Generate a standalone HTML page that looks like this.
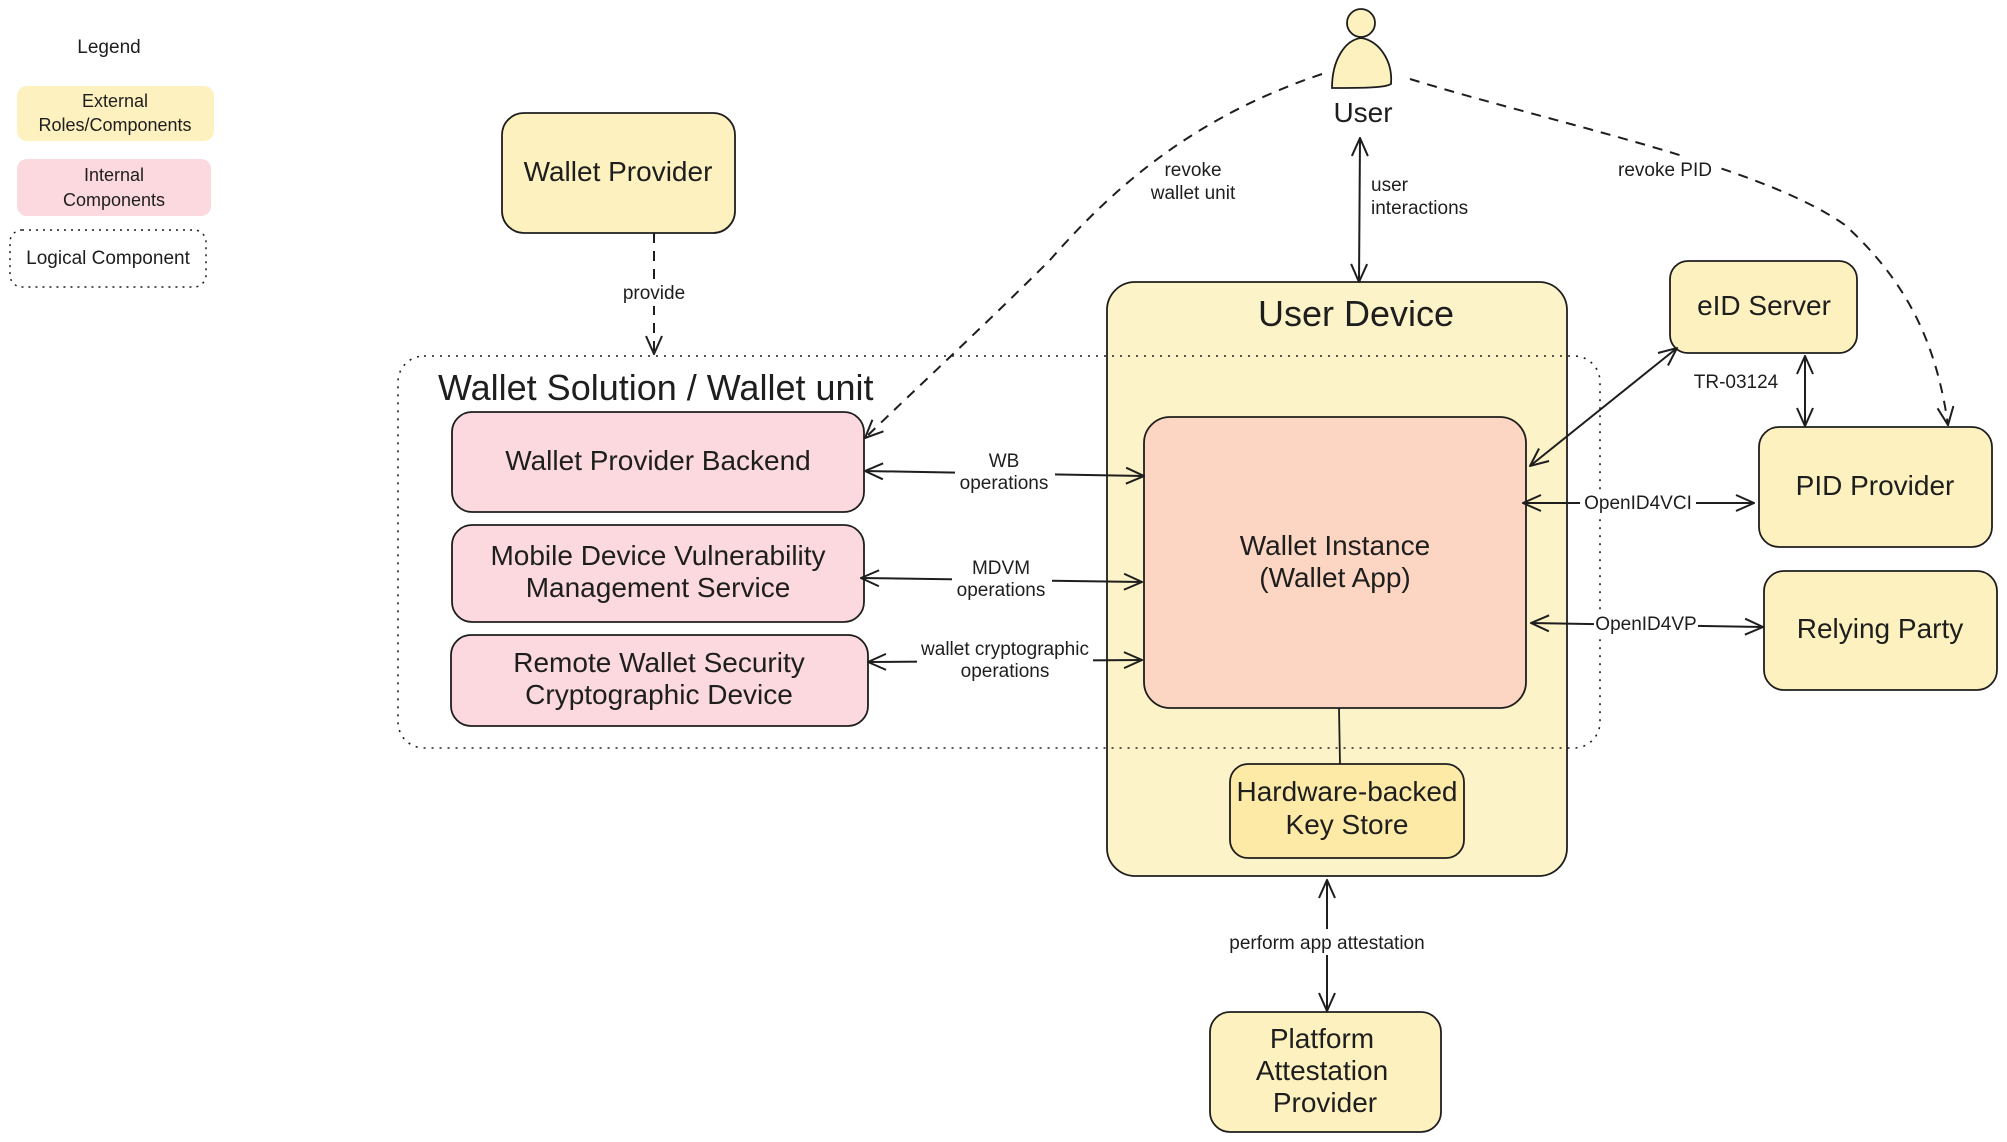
<!DOCTYPE html>
<html><head><meta charset="utf-8"><style>
html,body{margin:0;padding:0;background:#fff;}
svg{display:block;}
text{font-family:"Liberation Sans",sans-serif;fill:#1e1e1e;}
</style></head><body>
<svg width="2007" height="1142" viewBox="0 0 2007 1142" xmlns="http://www.w3.org/2000/svg">
<defs>
<marker id="ah" viewBox="0 0 20 20" refX="19" refY="10" markerWidth="20" markerHeight="20" markerUnits="userSpaceOnUse" orient="auto-start-reverse">
<path d="M1,2 L19,10 L1,18" fill="none" stroke="#1e1e1e" stroke-width="2"/>
</marker>
</defs>

<text x="109" y="53" font-size="19" text-anchor="middle">Legend</text>
<rect x="17" y="86" width="197" height="55" rx="10" fill="#fdf1bf"/>
<text x="115" y="107" font-size="18" text-anchor="middle">External</text>
<text x="115" y="131" font-size="18" text-anchor="middle">Roles/Components</text>
<rect x="17" y="159" width="194" height="57" rx="10" fill="#fbd9de"/>
<text x="114" y="181" font-size="18" text-anchor="middle">Internal</text>
<text x="114" y="206" font-size="18" text-anchor="middle">Components</text>
<rect x="10" y="230" width="196" height="57" rx="12" fill="none" stroke="#1e1e1e" stroke-width="1.5" stroke-dasharray="2,5"/>
<text x="108" y="264" font-size="19" text-anchor="middle">Logical Component</text>

<rect x="1107" y="282" width="460" height="594" rx="28" fill="#fdf3c8" stroke="#1e1e1e" stroke-width="1.8"/>
<text x="1356" y="326" font-size="36" text-anchor="middle">User Device</text>

<rect x="398" y="356" width="1202" height="392" rx="26" fill="none" stroke="#1e1e1e" stroke-width="1.6" stroke-dasharray="2,6"/>
<text x="438" y="400" font-size="36">Wallet Solution / Wallet unit</text>

<rect x="502" y="113" width="233" height="120" rx="22" fill="#fdf1bf" stroke="#1e1e1e" stroke-width="1.8"/>
<text x="618" y="181" font-size="28" text-anchor="middle">Wallet Provider</text>
<line x1="654" y1="233" x2="654" y2="354" stroke="#1e1e1e" stroke-width="2" stroke-dasharray="10,8" marker-end="url(#ah)"/>
<rect x="618" y="280" width="72" height="26" fill="#fff"/>
<text x="654" y="299" font-size="19" text-anchor="middle">provide</text>

<rect x="452" y="412" width="412" height="100" rx="20" fill="#fbd9de" stroke="#1e1e1e" stroke-width="1.8"/>
<text x="658" y="470" font-size="28" text-anchor="middle">Wallet Provider Backend</text>
<rect x="452" y="525" width="412" height="97" rx="20" fill="#fbd9de" stroke="#1e1e1e" stroke-width="1.8"/>
<text x="658" y="565" font-size="28" text-anchor="middle">Mobile Device Vulnerability</text>
<text x="658" y="597" font-size="28" text-anchor="middle">Management Service</text>
<rect x="451" y="635" width="417" height="91" rx="20" fill="#fbd9de" stroke="#1e1e1e" stroke-width="1.8"/>
<text x="659" y="672" font-size="28" text-anchor="middle">Remote Wallet Security</text>
<text x="659" y="704" font-size="28" text-anchor="middle">Cryptographic Device</text>

<rect x="1144" y="417" width="382" height="291" rx="26" fill="#fcd6c3" stroke="#1e1e1e" stroke-width="1.8"/>
<text x="1335" y="555" font-size="28" text-anchor="middle">Wallet Instance</text>
<text x="1335" y="587" font-size="28" text-anchor="middle">(Wallet App)</text>
<line x1="1339" y1="708" x2="1340" y2="764" stroke="#1e1e1e" stroke-width="1.8"/>
<rect x="1230" y="764" width="234" height="94" rx="18" fill="#fdeaa6" stroke="#1e1e1e" stroke-width="1.8"/>
<text x="1347" y="801" font-size="28" text-anchor="middle">Hardware-backed</text>
<text x="1347" y="834" font-size="28" text-anchor="middle">Key Store</text>

<rect x="1210" y="1012" width="231" height="120" rx="20" fill="#fdf1bf" stroke="#1e1e1e" stroke-width="1.8"/>
<text x="1322" y="1048" font-size="28" text-anchor="middle">Platform</text>
<text x="1322" y="1080" font-size="28" text-anchor="middle">Attestation</text>
<text x="1325" y="1112" font-size="28" text-anchor="middle">Provider</text>
<line x1="1327" y1="880" x2="1327" y2="1011" stroke="#1e1e1e" stroke-width="2" marker-start="url(#ah)" marker-end="url(#ah)"/>
<rect x="1222" y="929" width="210" height="26" fill="#fff"/>
<text x="1327" y="949" font-size="19" text-anchor="middle">perform app attestation</text>

<line x1="865" y1="471" x2="1144" y2="476" stroke="#1e1e1e" stroke-width="2" marker-start="url(#ah)" marker-end="url(#ah)"/>
<rect x="955" y="450" width="100" height="46" fill="#fff"/>
<text x="1004" y="467" font-size="19" text-anchor="middle">WB</text>
<text x="1004" y="489" font-size="19" text-anchor="middle">operations</text>
<line x1="861" y1="578" x2="1142" y2="582" stroke="#1e1e1e" stroke-width="2" marker-start="url(#ah)" marker-end="url(#ah)"/>
<rect x="952" y="557" width="100" height="46" fill="#fff"/>
<text x="1001" y="574" font-size="19" text-anchor="middle">MDVM</text>
<text x="1001" y="596" font-size="19" text-anchor="middle">operations</text>
<line x1="868" y1="662" x2="1142" y2="660" stroke="#1e1e1e" stroke-width="2" marker-start="url(#ah)" marker-end="url(#ah)"/>
<rect x="917" y="638" width="176" height="46" fill="#fff"/>
<text x="1005" y="655" font-size="19" text-anchor="middle">wallet cryptographic</text>
<text x="1005" y="677" font-size="19" text-anchor="middle">operations</text>

<circle cx="1361" cy="23" r="14" fill="#fdf1bf" stroke="#1e1e1e" stroke-width="1.8"/>
<path d="M1332,88 C1332,60 1345,40 1361,38 C1378,40 1393,60 1391,84 C1385,88 1360,88 1332,88 Z" fill="#fdf1bf" stroke="#1e1e1e" stroke-width="1.8"/>
<text x="1363" y="122" font-size="28" text-anchor="middle">User</text>
<line x1="1360" y1="138" x2="1359" y2="282" stroke="#1e1e1e" stroke-width="2" marker-start="url(#ah)" marker-end="url(#ah)"/>
<text x="1371" y="191" font-size="19">user</text>
<text x="1371" y="214" font-size="19">interactions</text>

<path d="M1322,74 C1200,115 1120,180 1050,260 C990,320 920,385 865,438" fill="none" stroke="#1e1e1e" stroke-width="2" stroke-dasharray="10,8" marker-end="url(#ah)"/>
<text x="1193" y="176" font-size="19" text-anchor="middle">revoke</text>
<text x="1193" y="199" font-size="19" text-anchor="middle">wallet unit</text>

<path d="M1410,79 C1560,125 1760,165 1845,225 C1905,280 1936,340 1948,425" fill="none" stroke="#1e1e1e" stroke-width="2" stroke-dasharray="10,8" marker-end="url(#ah)"/>
<rect x="1612" y="156" width="106" height="26" fill="#fff"/>
<text x="1665" y="176" font-size="19" text-anchor="middle">revoke PID</text>

<rect x="1670" y="261" width="187" height="92" rx="18" fill="#fdf1bf" stroke="#1e1e1e" stroke-width="1.8"/>
<text x="1764" y="315" font-size="28" text-anchor="middle">eID Server</text>
<rect x="1759" y="427" width="233" height="120" rx="20" fill="#fdf1bf" stroke="#1e1e1e" stroke-width="1.8"/>
<text x="1875" y="495" font-size="28" text-anchor="middle">PID Provider</text>
<rect x="1764" y="571" width="233" height="119" rx="20" fill="#fdf1bf" stroke="#1e1e1e" stroke-width="1.8"/>
<text x="1880" y="638" font-size="28" text-anchor="middle">Relying Party</text>

<line x1="1677" y1="348" x2="1530" y2="466" stroke="#1e1e1e" stroke-width="2" marker-start="url(#ah)" marker-end="url(#ah)"/>
<line x1="1805" y1="356" x2="1805" y2="426" stroke="#1e1e1e" stroke-width="2" marker-start="url(#ah)" marker-end="url(#ah)"/>
<text x="1736" y="388" font-size="19" text-anchor="middle">TR-03124</text>

<line x1="1523" y1="503" x2="1754" y2="503" stroke="#1e1e1e" stroke-width="2" marker-start="url(#ah)" marker-end="url(#ah)"/>
<rect x="1580" y="490" width="116" height="26" fill="#fff"/>
<text x="1638" y="509" font-size="19" text-anchor="middle">OpenID4VCI</text>
<line x1="1531" y1="623" x2="1763" y2="627" stroke="#1e1e1e" stroke-width="2" marker-start="url(#ah)" marker-end="url(#ah)"/>
<rect x="1594" y="611" width="104" height="26" fill="#fff"/>
<text x="1646" y="630" font-size="19" text-anchor="middle">OpenID4VP</text>
</svg>
</body></html>
